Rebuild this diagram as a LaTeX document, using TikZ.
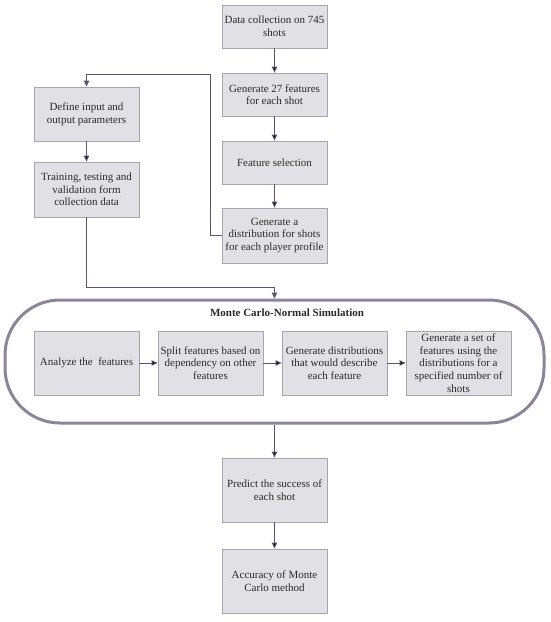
\documentclass[tikz,border=0pt]{standalone}
\usepackage{fontspec}
\setmainfont{Liberation Serif}
\usetikzlibrary{arrows.meta,shadows}

\definecolor{boxfill}{HTML}{E1E1E5}
\definecolor{boxline}{HTML}{A6A6AE}
\definecolor{flowline}{HTML}{5E5272}
\definecolor{simline}{HTML}{8E8499}
\definecolor{textcol}{HTML}{2A2A2A}

\tikzset{
  stepbox/.style={draw=boxline, fill=boxfill, line width=0.8pt,
    minimum width=105pt, align=center, inner sep=1pt, text=textcol,
    font=\fontsize{11}{12.6}\selectfont,
    drop shadow={opacity=0.18, shadow xshift=1pt, shadow yshift=-1pt}},
  flow/.style={draw=flowline, line width=1pt,
    -{Triangle[width=5.5pt,length=6pt]}},
}

\begin{document}
\begin{tikzpicture}[x=1pt, y=-1pt]
    \useasboundingbox (0,0) rectangle (550,622);

    % right column
    \node[stepbox, minimum height=43pt](data) at (274.5, 26.5) {Data collection on 745\\shots};
    \node[stepbox, minimum height=43pt](gen) at (274.5, 94.5) {Generate 27 features\\for each shot};
    \node[stepbox, minimum height=43pt](sel) at (274.5,162.5) {Feature selection};
    \node[stepbox, minimum height=55pt](dist) at (274.5,235.5) {Generate a\\distribution for shots\\for each player profile};

    % left column
    \node[stepbox, minimum height=54pt](def) at (86.5,114) {Define input and\\output parameters};
    \node[stepbox, minimum height=55pt](train) at (86.5,189.5) {Training, testing and\\validation form\\collection data};

    % simulation block
    \node[draw=simline, line width=3pt, rounded corners=55pt,
          minimum width=539pt, minimum height=123pt](mc) at (274.5,361.5) {};
    \node[text=textcol, font=\fontsize{11}{12.6}\selectfont\bfseries](title) at (287,313) {Monte Carlo-Normal Simulation};
    \node[stepbox, minimum height=64pt](ana) at ( 86.5,363) {Analyze the~~features};
    \node[stepbox, minimum height=64pt](split) at (210.5,363) {Split features based on\\dependency on other\\features};
    \node[stepbox, minimum height=64pt](desc) at (334.5,363) {Generate distributions\\that would describe\\each feature};
    \node[stepbox, minimum height=64pt](set) at (458.5,363) {Generate a set of\\features using the\\distributions for a\\specified number of\\shots};

    % result
    \node[stepbox, minimum height=64pt](pred) at (274.5,490) {Predict the success of\\each shot};
    \node[stepbox, minimum height=64pt](acc) at (274.5,581) {Accuracy of Monte\\Carlo method};

    \coordinate(back) at (210,74);
    \coordinate(join) at (274.5,287);

    \draw[flow](data) edge (gen)
               (gen)  edge (sel)
               (sel)  edge (dist)
               (def)  edge (train)
               (ana)  edge (split)
               (split) edge (desc)
               (desc) edge (set)
               (mc)   edge (pred)
               (pred) edge (acc);
    \draw[flow](dist.west) -| (back) -| (def.north);
    \draw[flow](train.south) |- (join) -- (mc.north);
\end{tikzpicture}
\end{document}
